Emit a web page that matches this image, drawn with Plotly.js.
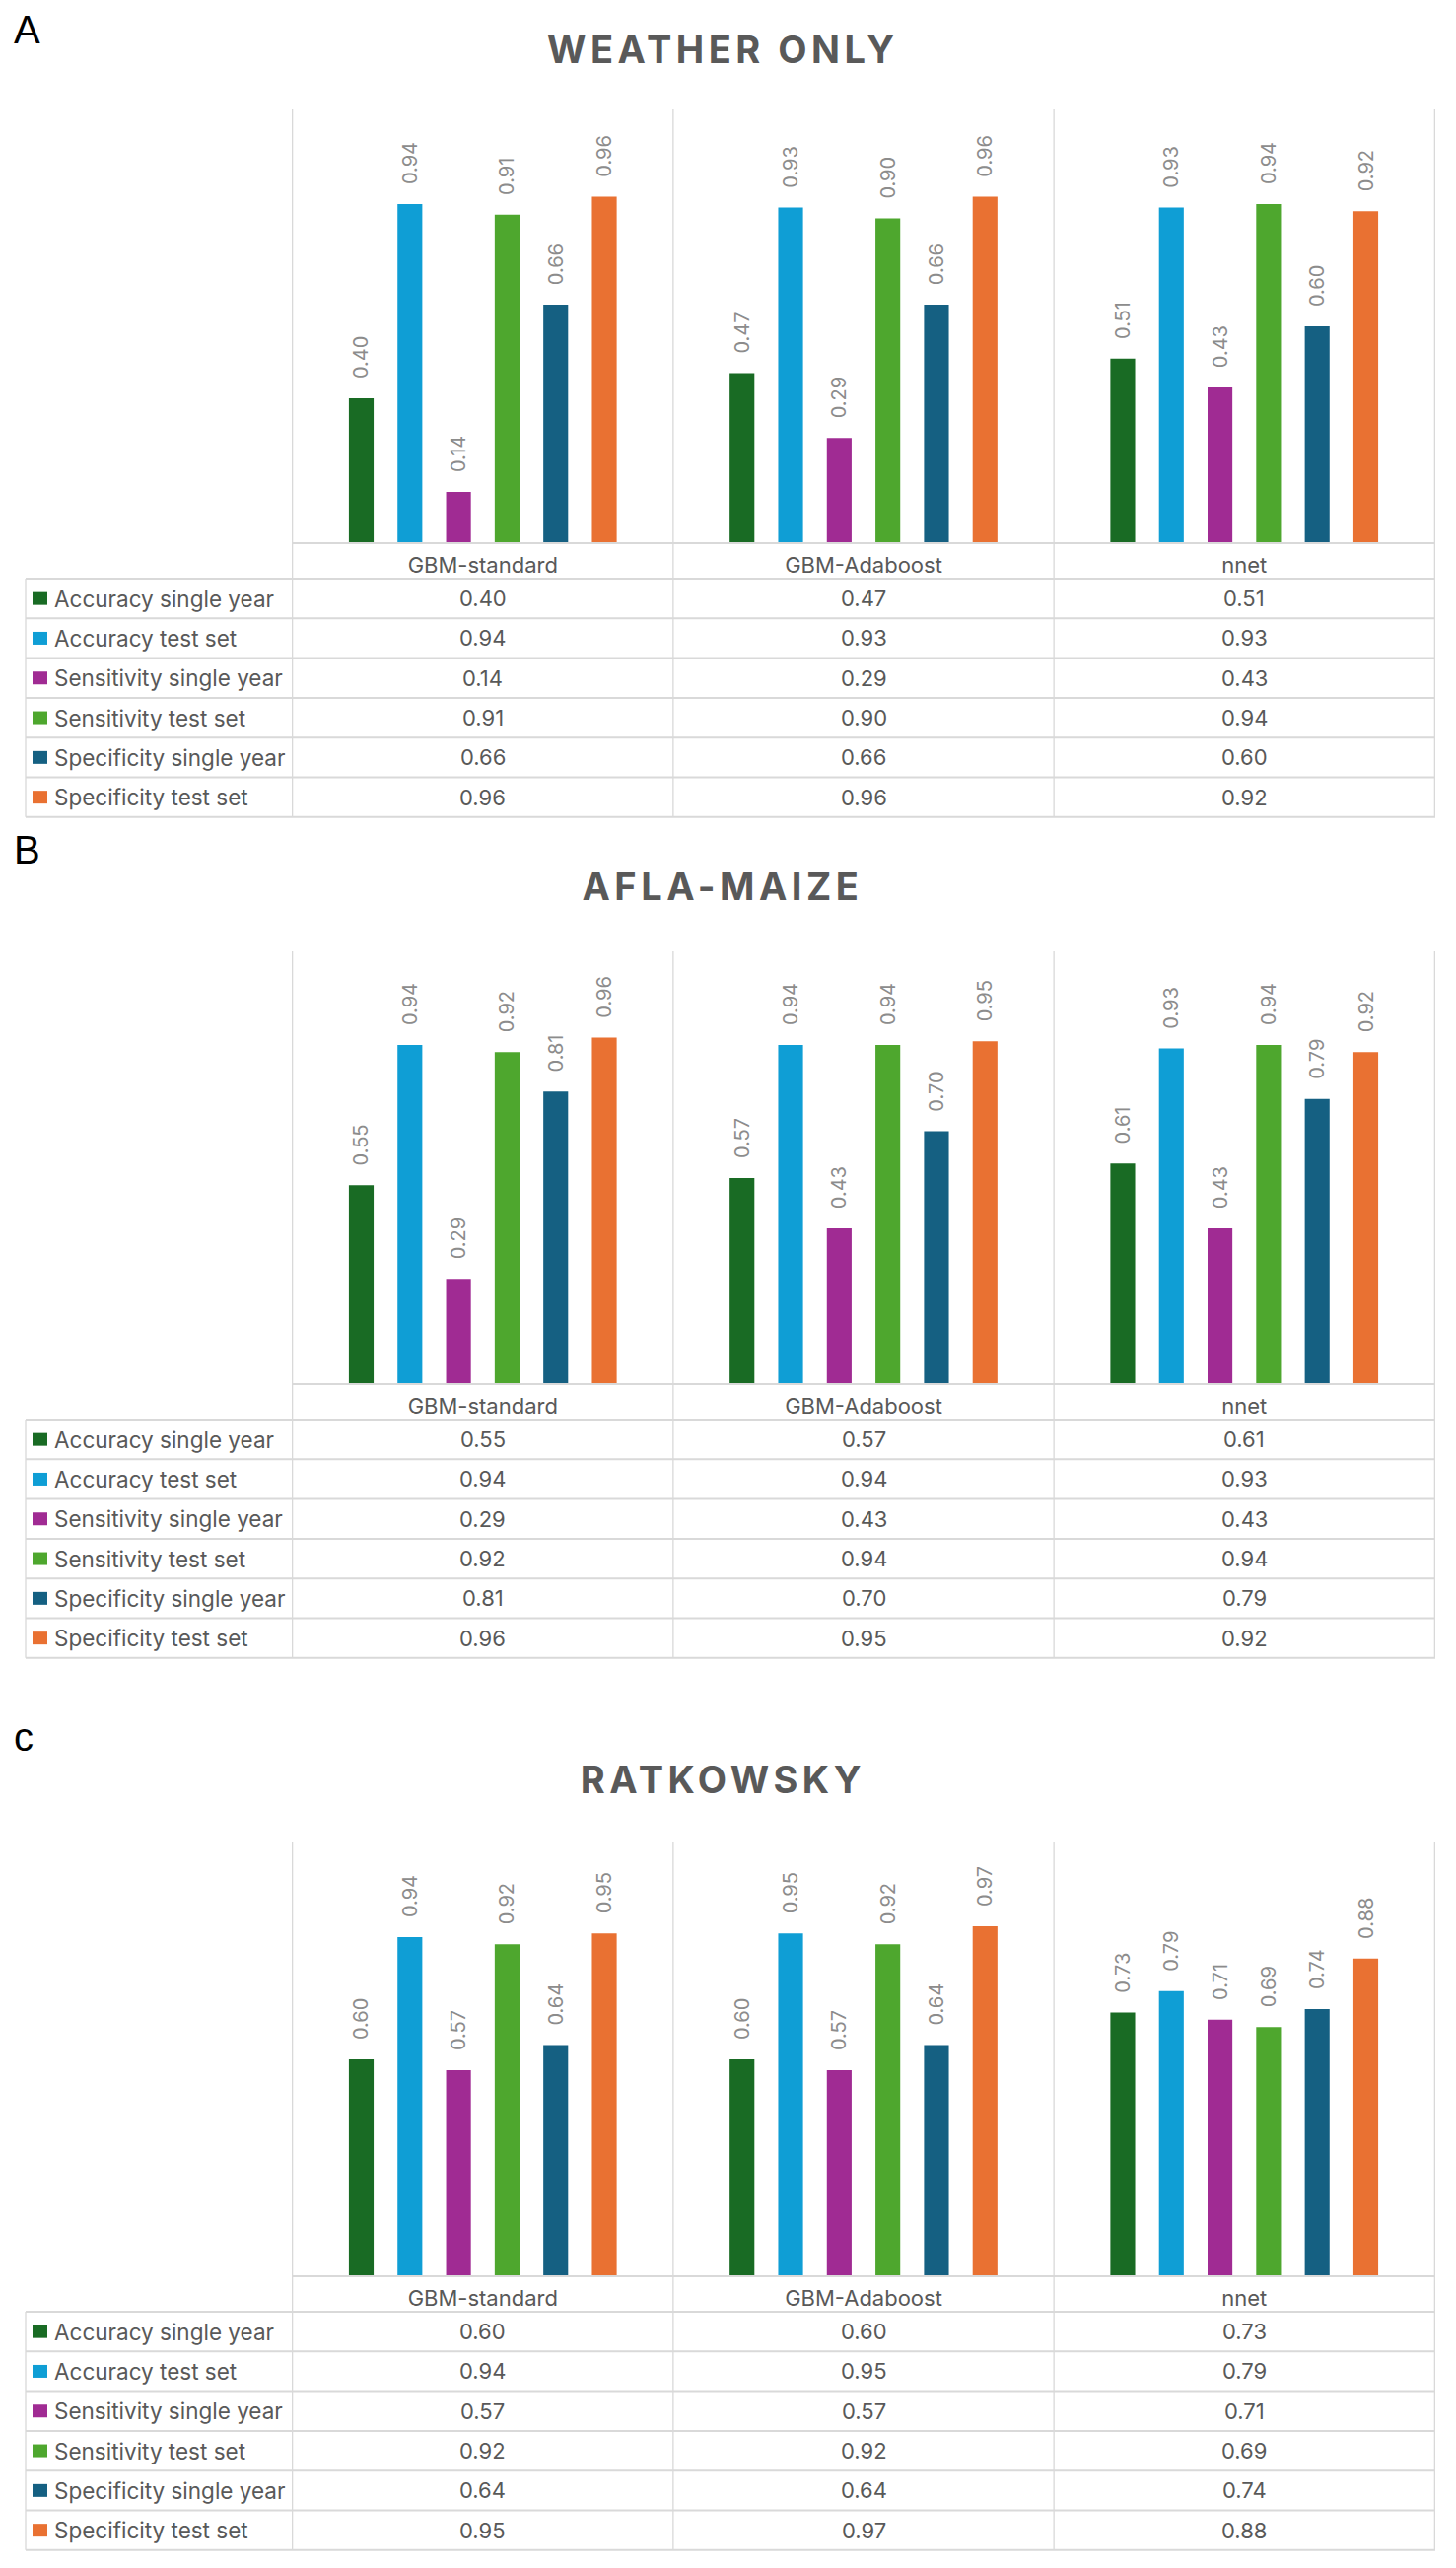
<!DOCTYPE html>
<html><head><meta charset="utf-8">
<script src="https://cdn.plot.ly/plotly-3.0.1.min.js"></script>
<style>
html,body{margin:0;padding:0;background:#fff;}
#chart{width:1477px;height:2605px;}
.annotation[data-index="0"] text,.annotation[data-index="1"] text,.annotation[data-index="2"] text{letter-spacing:4.5px;}
</style>
</head><body><div id="chart"></div>
<script>
// ---- data ----
const models = ['GBM-standard', 'GBM-Adaboost', 'nnet'];
const metrics = ['Accuracy single year', 'Accuracy test set', 'Sensitivity single year',
                 'Sensitivity test set', 'Specificity single year', 'Specificity test set'];
const colors = ['#196B24', '#0F9ED5', '#A02B93', '#4EA72E', '#156082', '#E97132'];
const panelTitles = ['WEATHER ONLY', 'AFLA-MAIZE', 'RATKOWSKY'];
const panelLetters = ['A', 'B', 'c'];
// rows = metrics, columns = models
const weatherOnly = [
  [0.40, 0.47, 0.51],
  [0.94, 0.93, 0.93],
  [0.14, 0.29, 0.43],
  [0.91, 0.90, 0.94],
  [0.66, 0.66, 0.60],
  [0.96, 0.96, 0.92]
];
const aflaMaize = [
  [0.55, 0.57, 0.61],
  [0.94, 0.94, 0.93],
  [0.29, 0.43, 0.43],
  [0.92, 0.94, 0.94],
  [0.81, 0.70, 0.79],
  [0.96, 0.95, 0.92]
];
const ratkowsky = [
  [0.60, 0.60, 0.73],
  [0.94, 0.95, 0.79],
  [0.57, 0.57, 0.71],
  [0.92, 0.92, 0.69],
  [0.64, 0.64, 0.74],
  [0.95, 0.97, 0.88]
];
const panelData = [weatherOnly, aflaMaize, ratkowsky];

// ---- geometry (pixels) ----
const W = 1477, H = 2605;
const panels = [
  {letterY: 30, titleY: 50, top: 111, base: 550},
  {letterY: 862, titleY: 899, top: 965, base: 1403},
  {letterY: 1762, titleY: 1805, top: 1869, base: 2308}
];
const plotLeft = 296, plotRight = 1456, tableLeft = 26;
const headerH = 37, rowH = 40.3;
const pxPerUnit = 365;
const px = x => x / W;
const py = y => 1 - y / H;

const textColor = '#595959';
const lineColor = '#d9d9d9';
const FONT = 'Inter, "Open Sans", "Liberation Sans", sans-serif';

const traces = [];
const shapes = [];
const annotations = [];
const layout = {
  width: W, height: H,
  margin: {l: 0, r: 0, t: 0, b: 0},
  paper_bgcolor: '#fff', plot_bgcolor: 'rgba(0,0,0,0)',
  showlegend: false,
  barmode: 'group', bargap: 0.234, bargroupgap: 0.49,
  font: {family: FONT, color: textColor}
};

// titles first (indices 0..2 used by CSS letter-spacing)
panels.forEach((p, i) => {
  annotations.push({
    xref: 'paper', yref: 'paper', x: px(733), y: py(p.titleY),
    text: '<b>' + panelTitles[i] + '</b>', showarrow: false,
    xanchor: 'center', yanchor: 'middle',
    font: {family: FONT, size: 38, color: textColor}
  });
});

panels.forEach((p, i) => {
  const s = i === 0 ? '' : String(i + 1);
  const vals = panelData[i];
  const tableBottom = p.base + headerH + 6 * rowH;

  metrics.forEach((m, r) => {
    traces.push({
      type: 'bar', name: m, x: models, y: vals[r],
      xaxis: 'x' + s, yaxis: 'y' + s,
      marker: {color: colors[r], line: {width: 0}},
      texttemplate: '\u00a0\u00a0\u00a0%{y:.2f}', textposition: 'outside',
      textangle: -90, constraintext: 'none', cliponaxis: false,
      textfont: {family: FONT, size: 20, color: '#8c8c8c'},
      hoverinfo: 'skip'
    });
  });

  layout['xaxis' + s] = {
    domain: [px(plotLeft), px(plotRight)], anchor: 'y' + s,
    type: 'category', showgrid: false, zeroline: false,
    showline: true, linecolor: lineColor, linewidth: 2,
    ticks: '', tickfont: {family: FONT, size: 22, color: textColor},
    ticklabelstandoff: 3, fixedrange: true
  };
  layout['yaxis' + s] = {
    domain: [py(p.base), py(p.top)], anchor: 'x' + s,
    range: [0, (p.base - p.top) / pxPerUnit], visible: false,
    showgrid: false, zeroline: false, fixedrange: true
  };

  // vertical category boundaries from plot top to bottom of table
  for (let k = 0; k <= models.length; k++) {
    shapes.push({type: 'line', xref: 'x' + s, yref: 'paper',
      x0: k - 0.5, x1: k - 0.5, y0: py(p.top), y1: py(tableBottom),
      line: {color: lineColor, width: 1.3}});
  }
  // table left border
  shapes.push({type: 'line', xref: 'paper', yref: 'paper',
    x0: px(tableLeft), x1: px(tableLeft), y0: py(p.base + headerH), y1: py(tableBottom),
    line: {color: lineColor, width: 1.3}});
  // horizontal row lines
  for (let r = 0; r <= metrics.length; r++) {
    const yy = p.base + headerH + r * rowH;
    shapes.push({type: 'line', xref: 'paper', yref: 'paper',
      x0: px(tableLeft), x1: px(plotRight), y0: py(yy), y1: py(yy),
      line: {color: lineColor, width: 2}});
  }
  // row labels, legend keys, values
  metrics.forEach((m, r) => {
    const cy = p.base + headerH + (r + 0.5) * rowH;
    shapes.push({type: 'rect', xref: 'paper', yref: 'paper',
      x0: px(33), x1: px(48), y0: py(cy + 6.5), y1: py(cy - 6.5),
      fillcolor: colors[r], line: {width: 0}});
    annotations.push({xref: 'paper', yref: 'paper', x: px(53), y: py(cy),
      text: m, showarrow: false, xanchor: 'left', yanchor: 'middle',
      font: {family: FONT, size: 22.5, color: textColor}});
    models.forEach((c, j) => {
      annotations.push({xref: 'x' + s, yref: 'paper', x: c, y: py(cy),
        text: vals[r][j].toFixed(2), showarrow: false,
        xanchor: 'center', yanchor: 'middle',
        font: {family: FONT, size: 22, color: textColor}});
    });
  });

  // panel letter
  annotations.push({xref: 'paper', yref: 'paper', x: px(12), y: py(p.letterY),
    text: panelLetters[i], showarrow: false, xanchor: 'left', yanchor: 'middle',
    font: {family: '"Liberation Sans Narrow", "Liberation Sans", sans-serif', size: 40, color: '#000'}});
});

layout.shapes = shapes;
layout.annotations = annotations;

Plotly.newPlot('chart', traces, layout, {staticPlot: true, displayModeBar: false});
</script>
</body></html>
